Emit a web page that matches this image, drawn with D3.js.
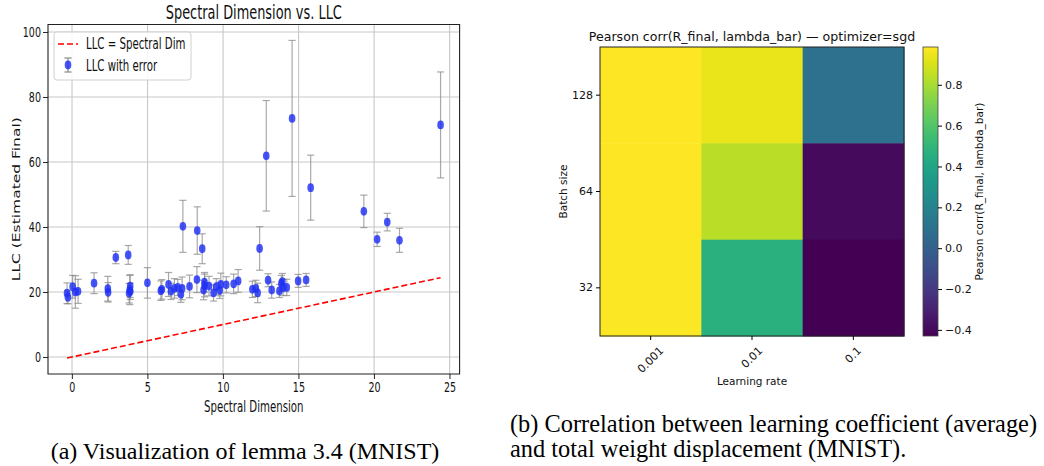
<!DOCTYPE html>
<html>
<head>
<meta charset="utf-8">
<script src="https://cdn.jsdelivr.net/npm/d3@7"></script>
<style>
  body { margin: 0; background: #fff; }
  svg { display: block; }
</style>
</head>
<body>
<svg id="chart" width="1044" height="466"></svg>
<script>
// ---------------- Data (left: scatter with error bars) ----------------
const spectralDim = [-0.33,-0.27,0.04,0.22,0.40,1.46,2.37,2.39,2.90,3.72,3.85,3.82,3.78,3.86,4.99,5.88,5.95,6.39,6.55,6.78,7.00,7.21,7.29,7.34,7.78,8.27,8.29,8.62,8.71,8.77,8.78,9.07,9.37,9.55,9.78,9.85,10.21,10.70,11.00,11.94,12.17,12.29,12.42,12.86,12.98,13.22,13.73,13.86,13.93,13.97,14.22,14.57,14.97,15.50,15.80,19.32,20.20,20.87,21.68,24.40];
const llcValue    = [19.6,18.4,21.6,20.0,20.2,22.7,21.0,19.9,30.6,31.4,21.8,20.6,19.6,20.2,22.8,20.4,20.8,22.3,20.2,21.1,21.4,19.3,21.1,40.2,21.7,23.8,38.9,33.3,20.6,23.0,22.0,21.8,19.7,21.6,20.5,22.3,22.2,22.5,23.4,20.8,21.1,19.7,33.4,61.9,23.6,20.6,20.3,22.6,23.2,21.4,21.4,73.4,23.4,23.7,52.1,44.8,36.2,41.5,35.9,71.4];
const llcError    = [3.2,2.0,3.5,5.0,3.7,3.2,3.8,3.0,1.9,2.9,3.5,4.5,3.0,2.5,4.7,3.0,3.0,3.7,2.5,3.0,2.5,2.5,3.5,8.0,3.5,4.0,7.3,4.6,3.0,3.0,3.5,3.0,2.5,2.5,2.5,3.5,2.5,3.0,3.5,2.5,2.5,3.0,6.7,17.0,2.0,2.5,2.0,2.5,2.5,2.5,2.5,24.0,2.0,2.0,10.0,5.0,2.2,2.7,3.7,16.3];
const xTicksLeft = [0,5,10,15,20,25];
const yTicksLeft = [0,20,40,60,80,100];

// ---------------- Data (right: heatmap) ----------------
const learningRates = ["0.001","0.01","0.1"];
const batchSizes = ["128","64","32"];            // top to bottom
const corr128 = [0.985, 0.94, 0.09];
const corr64  = [0.98, 0.84, -0.395];
const corr32  = [0.975, 0.47, -0.43];
const colorbarTicks = [-0.4,-0.2,0.0,0.2,0.4,0.6,0.8];

const svg = d3.select("#chart");

// ====================== LEFT PANEL ======================
const SX = 0.68; // horizontal compression of the left figure
const L = svg.append("g").attr("transform", `scale(${SX},1)`);
const leftFont = "DejaVu Sans, sans-serif";
const ax = { left: 48 / SX, right: 459.6 / SX, top: 24.5, bottom: 374 };

const xL = d3.scaleLinear().domain([-1.59, 25.66]).range([ax.left, ax.right]);
const yL = d3.scaleLinear().domain([-5.24, 102.3]).range([ax.bottom, ax.top]);

// grid
const grid = L.append("g");
grid.selectAll("line.gx").data(xTicksLeft).join("line")
  .attr("x1", d => xL(d)).attr("x2", d => xL(d))
  .attr("y1", ax.top).attr("y2", ax.bottom)
  .attr("stroke", "#c8c8c8").attr("stroke-width", 1.1).attr("vector-effect", "non-scaling-stroke");
grid.selectAll("line.gy").data(yTicksLeft).join("line")
  .attr("x1", ax.left).attr("x2", ax.right)
  .attr("y1", d => yL(d)).attr("y2", d => yL(d))
  .attr("stroke", "#c8c8c8").attr("stroke-width", 1.1).attr("vector-effect", "non-scaling-stroke");

// dashed identity line
const xMin = d3.min(spectralDim), xMax = d3.max(spectralDim);
L.append("line")
  .attr("x1", xL(xMin)).attr("y1", yL(xMin))
  .attr("x2", xL(xMax)).attr("y2", yL(xMax))
  .attr("stroke", "#ff0000").attr("stroke-width", 1.6)
  .attr("stroke-dasharray", "6,3").attr("vector-effect", "non-scaling-stroke");

// error bars
const pts = spectralDim.map((x, i) => ({ x, y: llcValue[i], e: llcError[i] }));
const eb = L.append("g").attr("stroke", "#8c8c8c").attr("stroke-opacity", 0.75).attr("stroke-width", 1.2);
const capHalf = 3.6 / SX;
pts.forEach(p => {
  eb.append("line").attr("x1", xL(p.x)).attr("x2", xL(p.x))
    .attr("y1", yL(p.y - p.e)).attr("y2", yL(p.y + p.e)).attr("vector-effect", "non-scaling-stroke");
  eb.append("line").attr("x1", xL(p.x) - capHalf).attr("x2", xL(p.x) + capHalf)
    .attr("y1", yL(p.y - p.e)).attr("y2", yL(p.y - p.e)).attr("vector-effect", "non-scaling-stroke");
  eb.append("line").attr("x1", xL(p.x) - capHalf).attr("x2", xL(p.x) + capHalf)
    .attr("y1", yL(p.y + p.e)).attr("y2", yL(p.y + p.e)).attr("vector-effect", "non-scaling-stroke");
});

// markers
L.append("g").selectAll("ellipse").data(pts).join("ellipse")
  .attr("cx", d => xL(d.x)).attr("cy", d => yL(d.y))
  .attr("rx", 3.3 / SX).attr("ry", 4.4)
  .attr("fill", "#1f2ff5").attr("fill-opacity", 0.82);

// frame
L.append("rect").attr("x", ax.left).attr("y", ax.top)
  .attr("width", ax.right - ax.left).attr("height", ax.bottom - ax.top)
  .attr("fill", "none").attr("stroke", "#222").attr("stroke-width", 1.1)
  .attr("vector-effect", "non-scaling-stroke");

// axes
const xAxisL = L.append("g").attr("transform", `translate(0,${ax.bottom})`)
  .call(d3.axisBottom(xL).tickValues(xTicksLeft).tickSize(5).tickPadding(3).tickFormat(d3.format("d")));
const yAxisL = L.append("g").attr("transform", `translate(${ax.left},0)`)
  .call(d3.axisLeft(yL).tickValues(yTicksLeft).tickSize(5 / SX).tickPadding(3).tickFormat(d3.format("d")));
[xAxisL, yAxisL].forEach(g => {
  g.select(".domain").remove();
  g.selectAll(".tick line").attr("stroke", "#222").attr("vector-effect", "non-scaling-stroke");
  g.selectAll("text").attr("font-family", leftFont).attr("font-size", 14).attr("fill", "#111");
});

// title & labels
L.append("text").attr("x", (ax.left + ax.right) / 2).attr("y", 19)
  .attr("text-anchor", "middle").attr("font-family", leftFont).attr("font-size", 19)
  .attr("fill", "#111").text("Spectral Dimension vs. LLC");
L.append("text").attr("x", (ax.left + ax.right) / 2).attr("y", 412)
  .attr("text-anchor", "middle").attr("font-family", leftFont).attr("font-size", 15)
  .attr("fill", "#111").text("Spectral Dimension");
L.append("text").attr("transform", `translate(${19.5 / SX},${(ax.top + ax.bottom) / 2}) rotate(-90)`)
  .attr("text-anchor", "middle").attr("font-family", leftFont).attr("font-size", 15.5)
  .attr("fill", "#111").text("LLC (Estimated Final)");

// legend
const lg = L.append("g");
lg.append("rect").attr("x", 54 / SX).attr("y", 32).attr("width", 137 / SX).attr("height", 48)
  .attr("rx", 3 / SX).attr("ry", 3).attr("fill", "#fff").attr("fill-opacity", 0.85)
  .attr("stroke", "#d0d0d0").attr("vector-effect", "non-scaling-stroke");
lg.append("line").attr("x1", 58 / SX).attr("x2", 78 / SX).attr("y1", 44).attr("y2", 44)
  .attr("stroke", "#ff0000").attr("stroke-width", 1.6).attr("stroke-dasharray", "6,3")
  .attr("vector-effect", "non-scaling-stroke");
lg.append("text").attr("x", 86 / SX).attr("y", 49.5).attr("font-family", leftFont).attr("font-size", 15)
  .attr("fill", "#111").text("LLC = Spectral Dim");
lg.append("line").attr("x1", 68 / SX).attr("x2", 68 / SX).attr("y1", 58).attr("y2", 72)
  .attr("stroke", "#8c8c8c").attr("stroke-width", 1.2).attr("vector-effect", "non-scaling-stroke");
[58, 72].forEach(yy => lg.append("line").attr("x1", 68 / SX - capHalf).attr("x2", 68 / SX + capHalf)
  .attr("y1", yy).attr("y2", yy).attr("stroke", "#8c8c8c").attr("stroke-width", 1.2)
  .attr("vector-effect", "non-scaling-stroke"));
lg.append("ellipse").attr("cx", 68 / SX).attr("cy", 65).attr("rx", 3.3 / SX).attr("ry", 4.4)
  .attr("fill", "#1f2ff5").attr("fill-opacity", 0.82);
lg.append("text").attr("x", 86 / SX).attr("y", 71).attr("font-family", leftFont).attr("font-size", 15)
  .attr("fill", "#111").text("LLC with error");

// ====================== RIGHT PANEL ======================
const R = svg.append("g");
const rFont = "DejaVu Sans, sans-serif";
const hm = { left: 600, right: 904, top: 47, bottom: 336 };
const corrRows = [corr128, corr64, corr32];
const allVals = corrRows.flat();
const vmin = d3.min(allVals), vmax = d3.max(allVals);
const color = d3.scaleSequential(d3.interpolateViridis).domain([vmin, vmax]);

const xH = d3.scaleBand().domain(learningRates).range([hm.left, hm.right]);
const yH = d3.scaleBand().domain(batchSizes).range([hm.top, hm.bottom]);

const cells = [];
batchSizes.forEach((b, i) => learningRates.forEach((lr, j) => cells.push({ b, lr, v: corrRows[i][j] })));
R.append("g").selectAll("rect").data(cells).join("rect")
  .attr("x", d => xH(d.lr)).attr("y", d => yH(d.b))
  .attr("width", xH.bandwidth() + 0.5).attr("height", yH.bandwidth() + 0.5)
  .attr("fill", d => color(d.v));
R.append("rect").attr("x", hm.left).attr("y", hm.top)
  .attr("width", hm.right - hm.left).attr("height", hm.bottom - hm.top)
  .attr("fill", "none").attr("stroke", "#222").attr("stroke-width", 1);

const yAxisH = R.append("g").attr("transform", `translate(${hm.left},0)`)
  .call(d3.axisLeft(yH).tickSize(4).tickPadding(3));
yAxisH.select(".domain").remove();
yAxisH.selectAll("text").attr("font-family", rFont).attr("font-size", 11).attr("fill", "#111");

const xAxisH = R.append("g").attr("transform", `translate(0,${hm.bottom})`)
  .call(d3.axisBottom(xH).tickSize(4).tickPadding(3));
xAxisH.select(".domain").remove();
xAxisH.selectAll("text").attr("font-family", rFont).attr("font-size", 11).attr("fill", "#111")
  .attr("dy", null).attr("y", null).attr("text-anchor", "middle").attr("dominant-baseline", "central")
  .each(function () {
    const w = this.getComputedTextLength();
    const h = 8;
    const half = (w + h) / Math.SQRT2 / 2;
    d3.select(this).attr("transform", `translate(0,${10 + half}) rotate(-45)`);
  });

R.append("text").attr("x", (hm.left + hm.right) / 2).attr("y", 41)
  .attr("text-anchor", "middle").attr("font-family", rFont).attr("font-size", 12.6)
  .attr("fill", "#111").text("Pearson corr(R_final, lambda_bar) — optimizer=sgd");
R.append("text").attr("x", (hm.left + hm.right) / 2).attr("y", 385)
  .attr("text-anchor", "middle").attr("font-family", rFont).attr("font-size", 10.5)
  .attr("fill", "#111").text("Learning rate");
R.append("text").attr("transform", `translate(567,${(hm.top + hm.bottom) / 2}) rotate(-90)`)
  .attr("text-anchor", "middle").attr("font-family", rFont).attr("font-size", 10.5)
  .attr("fill", "#111").text("Batch size");

// colorbar
const cb = { left: 923, right: 938, top: 47, bottom: 336 };
const defs = svg.append("defs");
const grad = defs.append("linearGradient").attr("id", "viridisGrad")
  .attr("x1", 0).attr("y1", 1).attr("x2", 0).attr("y2", 0);
d3.range(0, 1.0001, 0.05).forEach(t => grad.append("stop")
  .attr("offset", t).attr("stop-color", d3.interpolateViridis(t)));
R.append("rect").attr("x", cb.left).attr("y", cb.top)
  .attr("width", cb.right - cb.left).attr("height", cb.bottom - cb.top)
  .attr("fill", "url(#viridisGrad)").attr("stroke", "#444").attr("stroke-width", 0.8);
const yCb = d3.scaleLinear().domain([vmin, vmax]).range([cb.bottom, cb.top]);
const cbAxis = R.append("g").attr("transform", `translate(${cb.right},0)`)
  .call(d3.axisRight(yCb).tickValues(colorbarTicks).tickSize(4).tickPadding(3)
    .tickFormat(d => d3.format(".1f")(d).replace("-", "\u2212")));
cbAxis.select(".domain").remove();
cbAxis.selectAll("text").attr("font-family", rFont).attr("font-size", 11).attr("fill", "#111");
R.append("text").attr("transform", `translate(983,${(cb.top + cb.bottom) / 2}) rotate(-90)`)
  .attr("text-anchor", "middle").attr("font-family", rFont).attr("font-size", 10.5)
  .attr("fill", "#111").text("Pearson corr(R_final, lambda_bar)");

// ====================== CAPTIONS ======================
const capFont = "Liberation Serif, Times New Roman, serif";
svg.append("text").attr("x", 245).attr("y", 459).attr("text-anchor", "middle")
  .attr("font-family", capFont).attr("font-size", 24).attr("fill", "#000")
  .text("(a) Visualization of lemma 3.4 (MNIST)");
svg.append("text").attr("x", 510).attr("y", 432)
  .attr("font-family", capFont).attr("font-size", 24.4).attr("fill", "#000")
  .text("(b) Correlation between learning coefficient (average)");
svg.append("text").attr("x", 510).attr("y", 457)
  .attr("font-family", capFont).attr("font-size", 24.4).attr("fill", "#000")
  .text("and total weight displacement (MNIST).");
</script>
</body>
</html>
